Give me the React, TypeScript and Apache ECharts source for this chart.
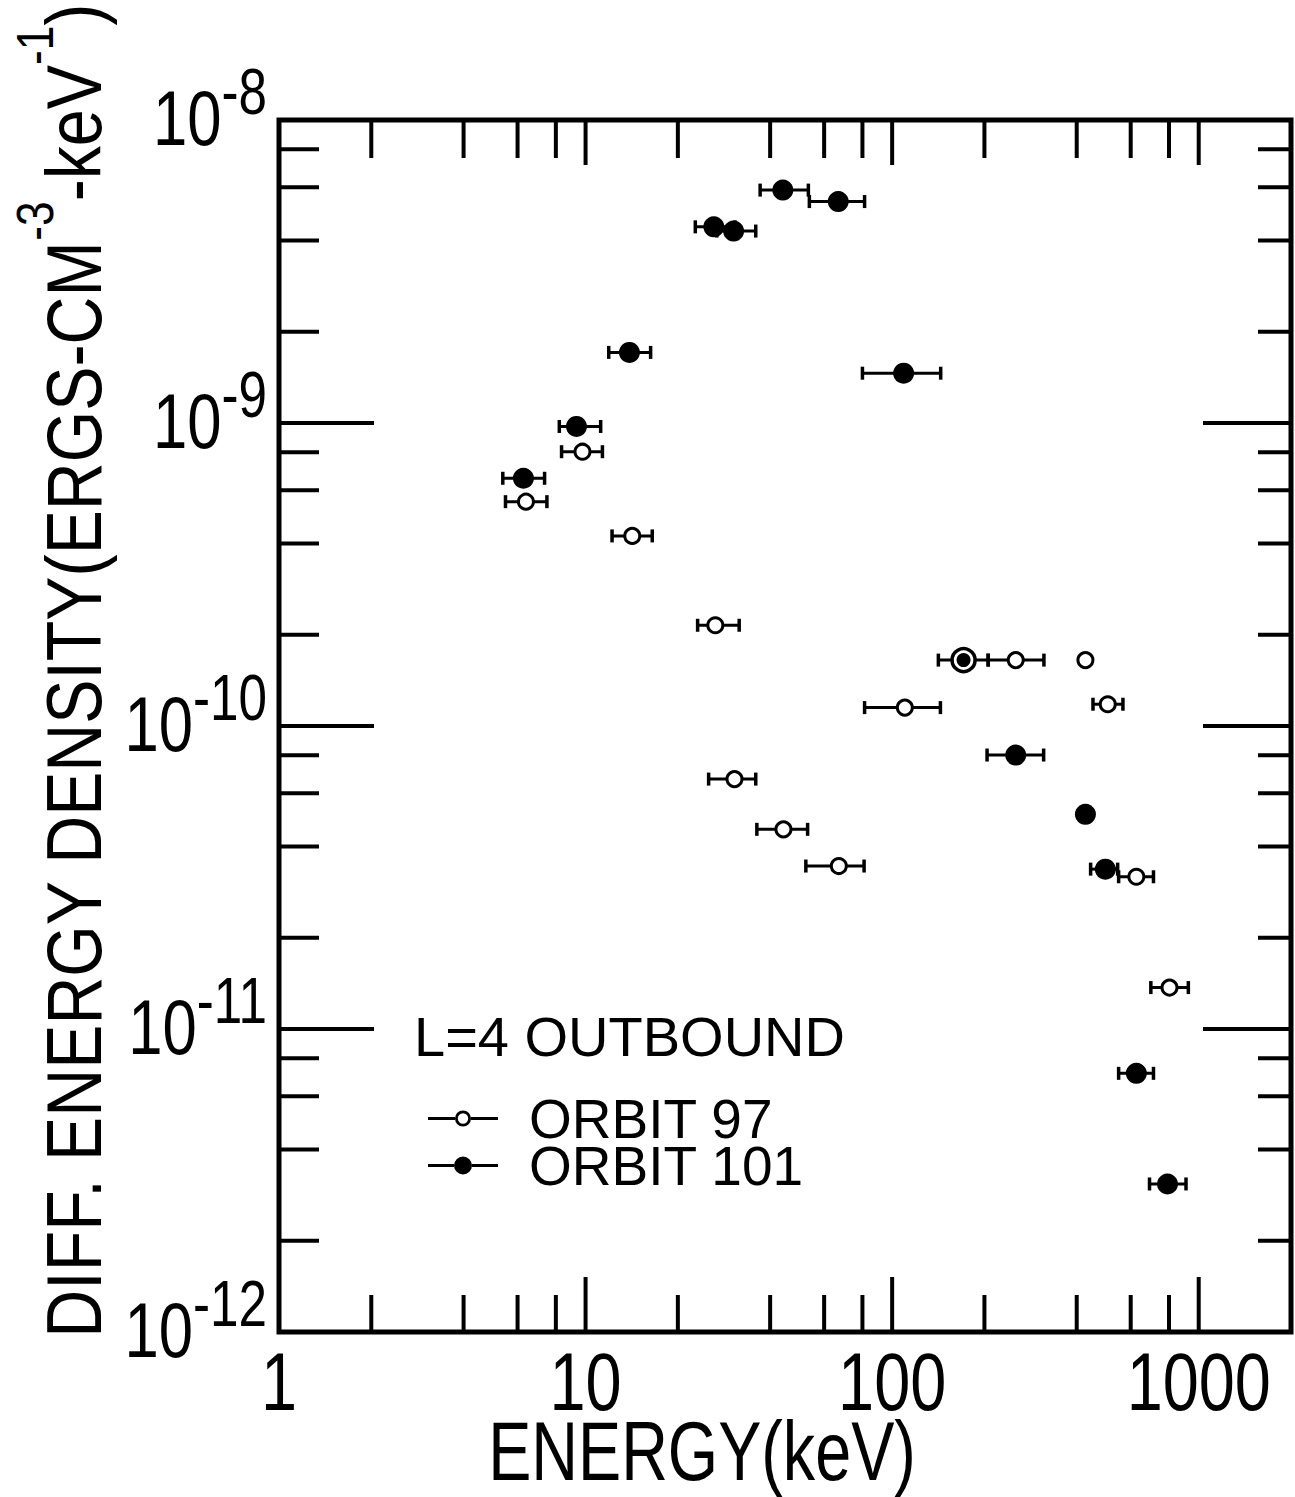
import React, { useEffect, useRef } from 'react';
import * as echarts from 'echarts';

const FONT = "'Liberation Sans', Arial, sans-serif";

// Axis ranges
const X_MIN = 1;
const X_MAX = 2000;
const Y_MIN = 1e-12;
const Y_MAX = 1e-8;

// Tick definitions
const X_DECADES = [1, 10, 100, 1000];
const Y_DECADES = [1e-12, 1e-11, 1e-10, 1e-9, 1e-8];
const MINOR_STEPS = [2, 4, 6, 8];
const X_TICK_LABELS = ['1', '10', '100', '1000'];
const Y_TICK_EXPONENTS = ['-12', '-11', '-10', '-9', '-8'];

// Titles
const X_TITLE = 'ENERGY(keV)';
const Y_TITLE_PARTS = ['DIFF. ENERGY DENSITY(ERGS-CM', '-3', '-keV', '-1', ')'];
const CAPTION = 'L=4 OUTBOUND';

// ORBIT 97 (open circles)
const orbit97Energy = [6.39, 9.77, 14.2, 26.5, 30.6, 44.2, 67.0, 110, 171, 253, 427, 505, 626, 803];
const orbit97Density = [5.5e-10, 8.04e-10, 4.24e-10, 2.15e-10, 6.68e-11, 4.56e-11, 3.45e-11, 1.15e-10, 1.65e-10, 1.65e-10, 1.65e-10, 1.18e-10, 3.18e-11, 1.37e-11];
const orbit97Low = [5.48, 8.35, 12.2, 23.2, 25.2, 36.2, 52.3, 81.3, 141.5, 205.7, null, 452, 548, 698];
const orbit97High = [7.48, 11.35, 16.5, 31.7, 35.9, 53.0, 81.0, 143.7, 205.7, 312.7, null, 566, 712, 925];

// ORBIT 101 (filled circles)
const orbit101Energy = [6.27, 9.34, 13.9, 26.2, 30.4, 44.0, 66.7, 109, 171, 253, 427, 496, 626, 791];
const orbit101Density = [6.57e-10, 9.74e-10, 1.71e-9, 4.44e-9, 4.3e-9, 5.87e-9, 5.38e-9, 1.46e-9, 1.65e-10, 8.02e-11, 5.11e-11, 3.37e-11, 7.14e-12, 3.08e-12];
const orbit101Low = [5.37, 8.21, 11.9, 22.8, 26.8, 37.1, 53.7, 80, null, 204, null, 444, 548, 691];
const orbit101High = [7.35, 11.2, 16.3, 30.7, 35.9, 53.3, 81.3, 144, null, 312, null, 544, 712, 909];

// index where both orbits coincide (circled dot)
const COINCIDENT_INDEX = 8;

const OPEN_ICON =
  'path://M0,0 L0.01,0 L0,0.01 Z M0,18 L0.01,18 L0,17.99 Z ' +
  'M0,7.5 L27,7.5 L27,10.5 L0,10.5 Z M43,7.5 L70,7.5 L70,10.5 L43,10.5 Z ' +
  'M27,9 A8,8 0 1,1 43,9 A8,8 0 1,1 27,9 Z ' +
  'M29.8,9 A5.2,5.2 0 1,0 40.2,9 A5.2,5.2 0 1,0 29.8,9 Z';
const FILLED_ICON =
  'path://M0,7.5 L26,7.5 L26,10.5 L0,10.5 Z M44,7.5 L70,7.5 L70,10.5 L44,10.5 Z ' +
  'M26,9 A9,9 0 1,1 44,9 A9,9 0 1,1 26,9 Z';

function buildTicks() {
  const out: number[][] = [];
  X_DECADES.forEach((d) => {
    if (d > X_MIN && d < X_MAX) out.push([d, Y_MIN, 0]);
    MINOR_STEPS.forEach((m) => {
      const v = d * m;
      if (v > X_MIN && v < X_MAX * 0.9999) out.push([v, Y_MIN, 1]);
    });
  });
  Y_DECADES.forEach((d) => {
    if (d > Y_MIN * 1.0001 && d < Y_MAX * 0.9999) out.push([X_MIN, d, 2]);
    MINOR_STEPS.forEach((m) => {
      const v = d * m;
      if (v < Y_MAX * 0.9999) out.push([X_MIN, v, 3]);
    });
  });
  return out;
}

function buildErrors(lo: (number | null)[], hi: (number | null)[], y: number[]) {
  const out: number[][] = [];
  lo.forEach((l, i) => {
    const h = hi[i];
    if (l != null && h != null) out.push([l, h, y[i]]);
  });
  return out;
}

const TICK = {
  bottomMajor: 55, bottomMinor: 37,
  topMajor: 45, topMinor: 38,
  leftMajor: 95, leftMinor: 40,
  rightMajor: 88, rightMinor: 33,
};

export default function App() {
  const ref = useRef<HTMLDivElement>(null);

  useEffect(() => {
    if (!ref.current) return;
    const chart = echarts.init(ref.current, null, { renderer: 'svg' });

    const tickStyle = { stroke: '#000', lineWidth: 4 };
    const errStyle = { stroke: '#000', lineWidth: 3 };

    const errorRender = (params: any, api: any) => {
      const lo = api.value(0);
      const hi = api.value(1);
      const y = api.value(2);
      const p1 = api.coord([lo, y]);
      const p2 = api.coord([hi, y]);
      const h = 6.5;
      return {
        type: 'group',
        children: [
          { type: 'line', shape: { x1: p1[0], y1: p1[1], x2: p2[0], y2: p2[1] }, style: errStyle },
          { type: 'line', shape: { x1: p1[0], y1: p1[1] - h, x2: p1[0], y2: p1[1] + h }, style: { stroke: '#000', lineWidth: 3.5 } },
          { type: 'line', shape: { x1: p2[0], y1: p2[1] - h, x2: p2[0], y2: p2[1] + h }, style: { stroke: '#000', lineWidth: 3.5 } },
        ],
      };
    };

    const yTitleRich =
      `{m|${Y_TITLE_PARTS[0]}}{s|${Y_TITLE_PARTS[1]}}{m|${Y_TITLE_PARTS[2]}}{s|${Y_TITLE_PARTS[3]}}{m|${Y_TITLE_PARTS[4]}}`;

    const option: any = {
      animation: false,
      backgroundColor: '#fff',
      title: {
        text: CAPTION,
        left: 414,
        top: 1008,
        padding: 0,
        textStyle: { fontFamily: FONT, fontSize: 56, lineHeight: 56, fontWeight: 'normal', color: '#000' },
      },
      legend: {
        orient: 'vertical',
        left: 428,
        top: 1091,
        padding: 0,
        itemGap: -8,
        itemWidth: 70,
        itemHeight: 18,
        selectedMode: false,
        textStyle: { fontFamily: FONT, fontSize: 55, color: '#000', padding: [0, 0, 0, 26] },
        data: [
          { name: 'ORBIT 97', icon: OPEN_ICON, itemStyle: { color: '#000', borderWidth: 0 } },
          { name: 'ORBIT 101', icon: FILLED_ICON, itemStyle: { color: '#000', borderWidth: 0 } },
        ],
      },
      graphic: [
        {
          type: 'text',
          x: 61,
          y: 671,
          rotation: Math.PI / 2,
          scaleX: 0.85,
          silent: true,
          style: {
            text: yTitleRich,
            align: 'center',
            verticalAlign: 'middle',
            fill: '#000',
            rich: {
              m: { fontFamily: FONT, fontSize: 78, lineHeight: 78, verticalAlign: 'bottom', fill: '#000' },
              s: { fontFamily: FONT, fontSize: 52, lineHeight: 104, verticalAlign: 'top', fill: '#000' },
            },
          },
        },
        {
          type: 'text',
          x: 702,
          y: 1451,
          scaleX: 0.77,
          silent: true,
          style: {
            text: X_TITLE,
            fontFamily: FONT,
            fontSize: 84,
            align: 'center',
            verticalAlign: 'middle',
            fill: '#000',
          },
        },
      ],
      grid: {
        left: 279,
        top: 120,
        width: 1012,
        height: 1212,
        show: true,
        borderColor: '#000',
        borderWidth: 5,
        backgroundColor: 'transparent',
        outerBoundsMode: 'none',
        containLabel: false,
      },
      xAxis: {
        type: 'log',
        logBase: 10,
        min: X_MIN,
        max: X_MAX,
        axisLine: { show: false },
        axisTick: { show: false },
        splitLine: { show: false },
        minorTick: { show: false },
        axisLabel: { show: false },
      },
      yAxis: {
        type: 'log',
        logBase: 10,
        min: Y_MIN,
        max: Y_MAX,
        axisLine: { show: false },
        axisTick: { show: false },
        splitLine: { show: false },
        minorTick: { show: false },
        axisLabel: { show: false },
      },
      series: [
        {
          type: 'custom',
          name: 'ticks',
          silent: true,
          z: 1,
          clip: false,
          encode: { x: 0, y: 1 },
          data: buildTicks(),
          renderItem: (params: any, api: any) => {
            const cs = params.coordSys;
            const kind = api.value(2);
            if (kind < 2) {
              const px = api.coord([api.value(0), Y_MIN])[0];
              const major = kind === 0;
              const bot = cs.y + cs.height;
              return {
                type: 'group',
                children: [
                  { type: 'line', shape: { x1: px, y1: bot, x2: px, y2: bot - (major ? TICK.bottomMajor : TICK.bottomMinor) }, style: tickStyle },
                  { type: 'line', shape: { x1: px, y1: cs.y, x2: px, y2: cs.y + (major ? TICK.topMajor : TICK.topMinor) }, style: tickStyle },
                ],
              };
            }
            const py = api.coord([X_MIN, api.value(1)])[1];
            const major = kind === 2;
            const right = cs.x + cs.width;
            return {
              type: 'group',
              children: [
                { type: 'line', shape: { x1: cs.x, y1: py, x2: cs.x + (major ? TICK.leftMajor : TICK.leftMinor), y2: py }, style: tickStyle },
                { type: 'line', shape: { x1: right, y1: py, x2: right - (major ? TICK.rightMajor : TICK.rightMinor), y2: py }, style: tickStyle },
              ],
            };
          },
        },
        {
          type: 'custom',
          name: 'xTickLabels',
          silent: true,
          z: 1,
          clip: false,
          encode: { x: 0, y: 1 },
          data: X_DECADES.map((d, i) => [d, Y_MIN, i]),
          renderItem: (params: any, api: any) => {
            const cs = params.coordSys;
            const px = api.coord([api.value(0), Y_MIN])[0];
            return {
              type: 'text',
              x: px,
              y: cs.y + cs.height + 50,
              scaleX: 0.8,
              style: {
                text: X_TICK_LABELS[api.value(2)],
                fontFamily: FONT,
                fontSize: 81,
                fill: '#000',
                align: 'center',
                verticalAlign: 'middle',
              },
            };
          },
        },
        {
          type: 'custom',
          name: 'yTickLabels',
          silent: true,
          z: 1,
          clip: false,
          encode: { x: 0, y: 1 },
          data: Y_DECADES.map((d, i) => [X_MIN, d, i]),
          renderItem: (params: any, api: any) => {
            const cs = params.coordSys;
            const py = api.coord([X_MIN, api.value(1)])[1];
            return {
              type: 'text',
              x: cs.x - 12,
              y: py - 12,
              scaleX: 0.8,
              style: {
                text: `{b|10}{s|${Y_TICK_EXPONENTS[api.value(2)]}}`,
                align: 'right',
                verticalAlign: 'middle',
                fill: '#000',
                rich: {
                  b: { fontFamily: FONT, fontSize: 77, lineHeight: 77, verticalAlign: 'bottom', fill: '#000' },
                  s: { fontFamily: FONT, fontSize: 64, lineHeight: 97, verticalAlign: 'top', fill: '#000' },
                },
              },
            };
          },
        },
        {
          type: 'custom',
          name: 'err97',
          silent: true,
          z: 2,
          encode: { x: [0, 1], y: 2 },
          data: buildErrors(orbit97Low, orbit97High, orbit97Density),
          renderItem: errorRender,
        },
        {
          type: 'custom',
          name: 'err101',
          silent: true,
          z: 2,
          encode: { x: [0, 1], y: 2 },
          data: buildErrors(orbit101Low, orbit101High, orbit101Density),
          renderItem: errorRender,
        },
        {
          type: 'scatter',
          name: 'ORBIT 97',
          silent: true,
          z: 3,
          symbol: 'circle',
          itemStyle: { color: '#fff', borderColor: '#000', borderWidth: 3, opacity: 1 },
          data: orbit97Energy.map((e, i) => ({
            value: [e, orbit97Density[i]],
            symbolSize: i === COINCIDENT_INDEX ? 23 : 15,
            itemStyle: i === COINCIDENT_INDEX ? { borderWidth: 3.5 } : undefined,
          })),
        },
        {
          type: 'scatter',
          name: 'ORBIT 101',
          silent: true,
          z: 4,
          symbol: 'circle',
          itemStyle: { color: '#000', borderWidth: 0, opacity: 1 },
          data: orbit101Energy.map((e, i) => ({
            value: [e, orbit101Density[i]],
            symbolSize: i === COINCIDENT_INDEX ? 14 : 21,
          })),
        },
      ],
    };

    chart.setOption(option);
    return () => chart.dispose();
  }, []);

  return (
    <div
      ref={ref}
      style={{ position: 'absolute', left: 0, top: 0, width: 1295, height: 1497, background: '#fff' }}
    />
  );
}
